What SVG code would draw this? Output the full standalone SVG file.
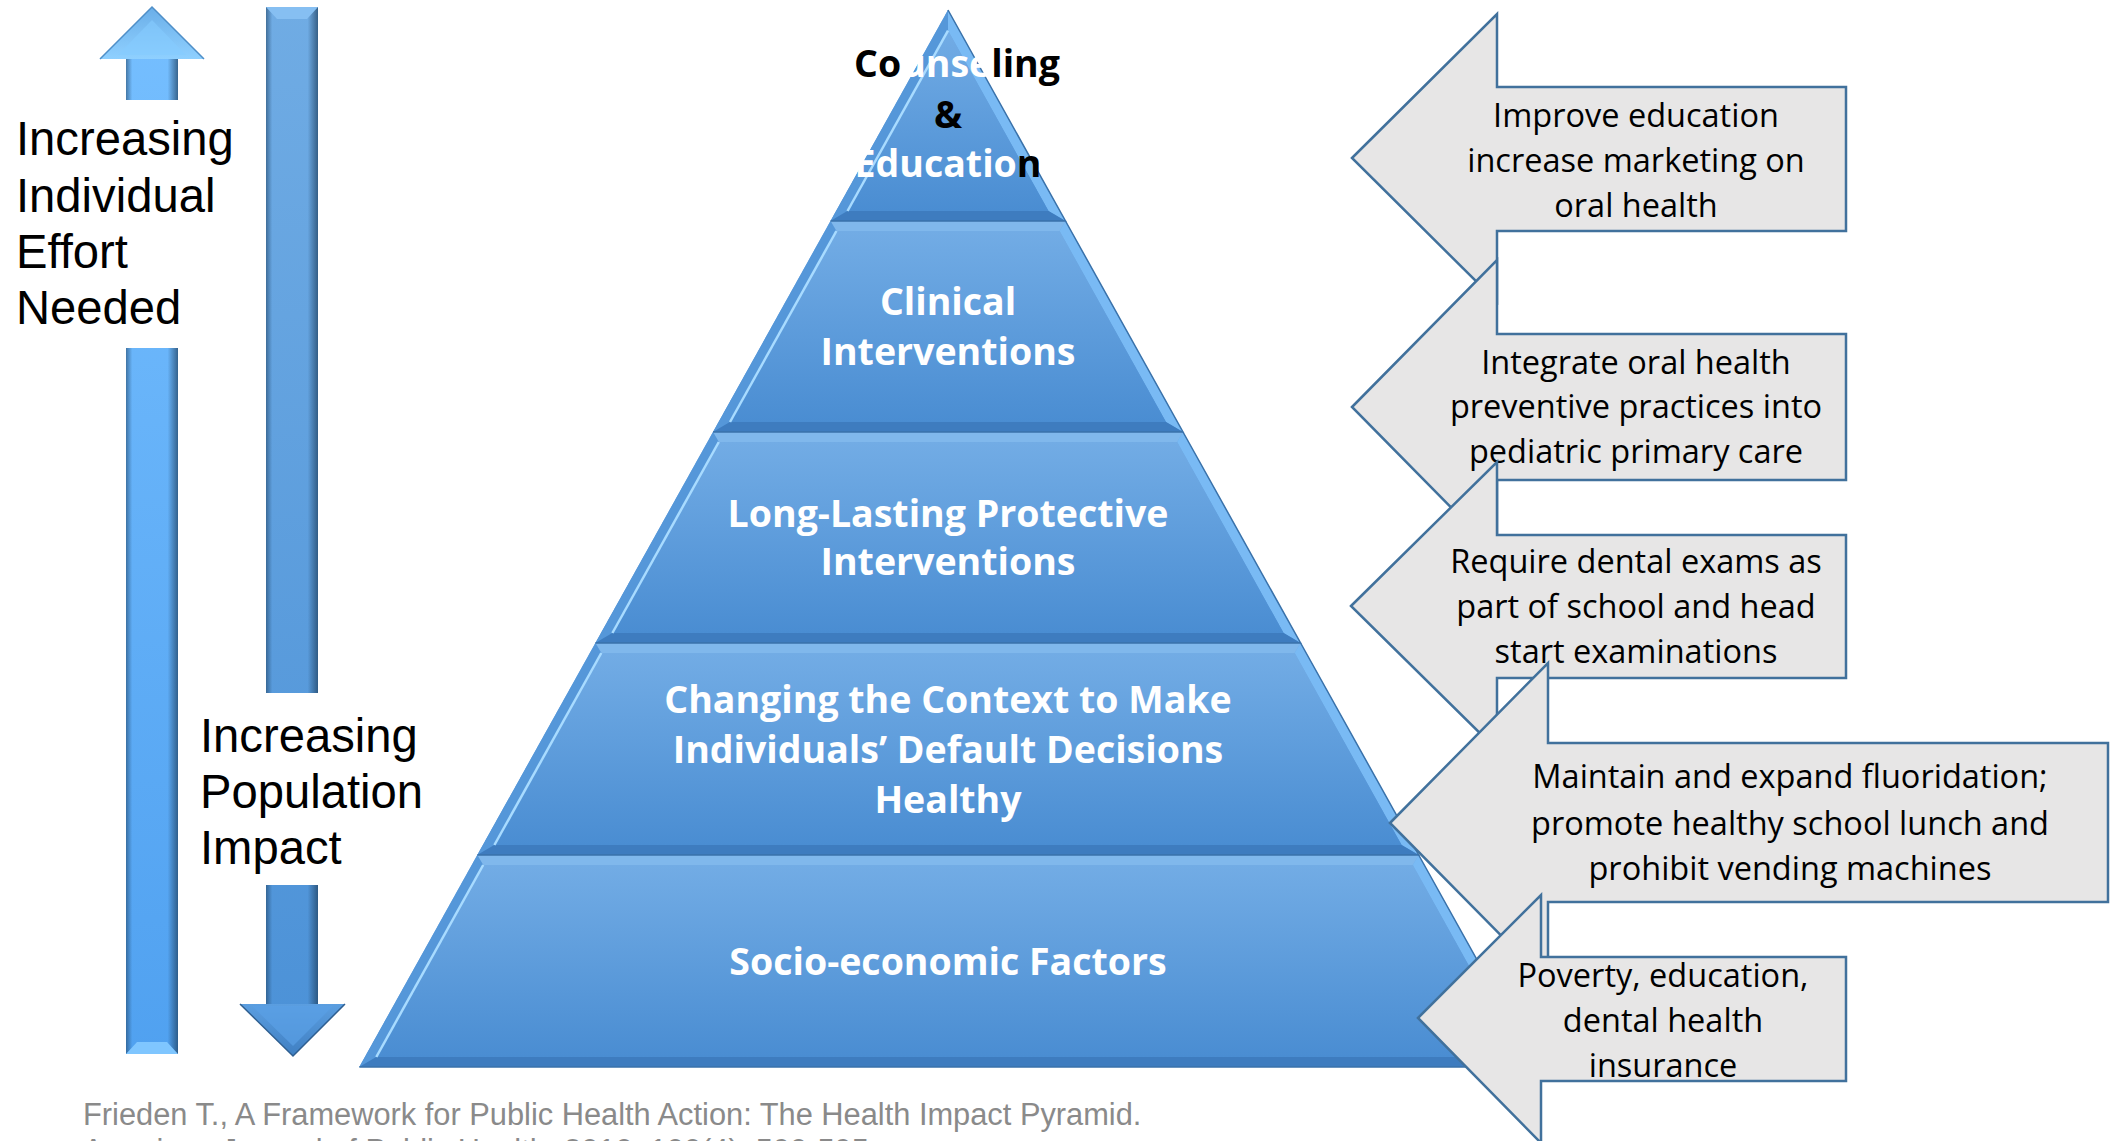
<svg xmlns="http://www.w3.org/2000/svg" width="2123" height="1141" viewBox="0 0 2123 1141">
<defs>
<linearGradient id="tierGrad" x1="0" y1="0" x2="0" y2="1">
<stop offset="0" stop-color="#72ace5"/><stop offset="1" stop-color="#4a8dd2"/>
</linearGradient>
<linearGradient id="upShaftU" x1="0" y1="0" x2="0" y2="1060" gradientUnits="userSpaceOnUse">
<stop offset="0" stop-color="#76bfff"/><stop offset="1" stop-color="#50a1f0"/>
</linearGradient>
<linearGradient id="downShaftU" x1="0" y1="0" x2="0" y2="1060" gradientUnits="userSpaceOnUse">
<stop offset="0" stop-color="#70ace4"/><stop offset="1" stop-color="#4b91d7"/>
</linearGradient>
<linearGradient id="edgeShade" x1="0" y1="0" x2="1" y2="0">
<stop offset="0" stop-color="#1e3f5e" stop-opacity="0.55"/>
<stop offset="0.12" stop-color="#1e3f5e" stop-opacity="0"/>
<stop offset="0.8" stop-color="#1e3f5e" stop-opacity="0"/>
<stop offset="1" stop-color="#1e3f5e" stop-opacity="0.7"/>
</linearGradient>
<linearGradient id="upHead" x1="0" y1="0" x2="0" y2="1">
<stop offset="0" stop-color="#6aaee8"/><stop offset="1" stop-color="#8fd0ff"/>
</linearGradient>
<linearGradient id="downHead" x1="0" y1="0" x2="0" y2="1">
<stop offset="0" stop-color="#5b9ee0"/><stop offset="1" stop-color="#3f7fc2"/>
</linearGradient>
<style>
.tier-main{fill:url(#tierGrad)}
.band-top{fill:#80b8ec}
.band-left{fill:#5597d9}
.band-right{fill:#79baf4}
.band-bottom{fill:#3e7cbf}
.hl{fill:none;stroke:#a8dbff;stroke-width:2.5}
.edge{fill:none;stroke:#3a72aa;stroke-width:1.5}
.ptext{font-family:"Open Sans","Noto Sans",sans-serif;font-weight:700;font-size:37.5px;fill:#ffffff;text-anchor:middle}
.ctext{font-family:"Open Sans","Noto Sans",sans-serif;font-size:32.5px;fill:#000000;text-anchor:middle}
.callout{fill:#e7e6e6;stroke:#41719c;stroke-width:2.5;stroke-linejoin:miter}
.ltext{font-family:"Liberation Sans",Arial,sans-serif;font-size:47.2px;fill:#000000}
.cite{font-family:"Liberation Sans",Arial,sans-serif;font-size:30.8px;fill:#8a8a8a}
.shade{fill:url(#edgeShade)}
</style>
</defs>
<rect width="2123" height="1141" fill="#ffffff"/>

<!-- Left arrows -->
<g id="arrow-effort">
<polygon points="152,7 204,59 100,59" fill="url(#upHead)"/>
<polygon points="152,20 186,55 118,55" fill="#86cbff" opacity="0.6"/>
<polyline points="100,59 152,7 204,59" fill="none" stroke="#4f8fc8" stroke-width="1.5"/>
<rect x="126" y="59" width="52" height="41" fill="url(#upShaftU)"/>
<rect x="126" y="59" width="52" height="41" class="shade"/>
<rect x="126" y="348" width="52" height="706" fill="url(#upShaftU)"/>
<rect x="126" y="348" width="52" height="706" class="shade"/>
<polygon points="126,1054 178,1054 167,1042 137,1042" fill="#7fc6ff"/>
</g>
<g id="arrow-impact">
<rect x="266" y="7" width="52" height="686" fill="url(#downShaftU)"/>
<rect x="266" y="7" width="52" height="686" class="shade"/>
<polygon points="266,7 318,7 307,19 277,19" fill="#86bff2"/>
<rect x="266" y="885" width="52" height="119" fill="url(#downShaftU)"/>
<rect x="266" y="885" width="52" height="119" class="shade"/>
<polygon points="240,1004 345,1004 293,1056" fill="url(#downHead)"/>
<polygon points="252,1006 333,1006 293,1046" fill="#5aa0e6" opacity="0.7"/>
<polyline points="240,1004 293,1056 345,1004" fill="none" stroke="#2f5f90" stroke-width="1.5"/>
</g>
<g id="label-effort">
<text class="ltext" x="16" y="155">Increasing</text>
<text class="ltext" x="16" y="212">Individual</text>
<text class="ltext" x="16" y="268">Effort</text>
<text class="ltext" x="16" y="324">Needed</text>
</g>
<g id="label-impact">
<text class="ltext" x="200" y="752">Increasing</text>
<text class="ltext" x="200" y="808">Population</text>
<text class="ltext" x="200" y="864">Impact</text>
</g>

<!-- Pyramid -->
<g id="tier-5">
<polygon class="tier-main" points="477.3,855 1418.7,855 1536.7,1067 359.3,1067"/>
<polygon class="band-top" points="477.3,855 1418.7,855 1412.8,865 483.2,865"/>
<polygon class="band-left" points="477.3,855 483.2,865 376.3,1057 359.3,1067"/>
<polygon class="band-right" points="1418.7,855 1536.7,1067 1519.7,1057 1412.8,865"/>
<polygon class="band-bottom" points="376.3,1057 1519.7,1057 1536.7,1067 359.3,1067"/>
<polygon class="tier-main" points="483.2,865 1412.8,865 1519.7,1057 376.3,1057"/>
<line class="hl" x1="483.2" y1="865" x2="376.3" y2="1057"/>
<polyline class="edge" points="1418.7,855 1536.7,1067 359.3,1067"/>
<text class="ptext" x="948" y="975">Socio-economic Factors</text>
</g>
<g id="tier-4">
<polygon class="tier-main" points="595.4,643 1300.6,643 1418.7,855 477.3,855"/>
<polygon class="band-top" points="595.4,643 1300.6,643 1294.7,653 601.3,653"/>
<polygon class="band-left" points="595.4,643 601.3,653 494.4,845 477.3,855"/>
<polygon class="band-right" points="1300.6,643 1418.7,855 1401.6,845 1294.7,653"/>
<polygon class="band-bottom" points="494.4,845 1401.6,845 1418.7,855 477.3,855"/>
<polygon class="tier-main" points="601.3,653 1294.7,653 1401.6,845 494.4,845"/>
<line class="hl" x1="601.3" y1="653" x2="494.4" y2="845"/>
<polyline class="edge" points="1300.6,643 1418.7,855 477.3,855"/>
<text class="ptext" x="948" y="713">Changing the Context to Make</text>
<text class="ptext" x="948" y="763">Individuals’ Default Decisions</text>
<text class="ptext" x="948" y="813">Healthy</text>
</g>
<g id="tier-3">
<polygon class="tier-main" points="713,432 1183,432 1300.6,643 595.4,643"/>
<polygon class="band-top" points="713,432 1183,432 1177.2,442 718.8,442"/>
<polygon class="band-left" points="713,432 718.8,442 612.4,633 595.4,643"/>
<polygon class="band-right" points="1183,432 1300.6,643 1283.6,633 1177.2,442"/>
<polygon class="band-bottom" points="612.4,633 1283.6,633 1300.6,643 595.4,643"/>
<polygon class="tier-main" points="718.8,442 1177.2,442 1283.6,633 612.4,633"/>
<line class="hl" x1="718.8" y1="442" x2="612.4" y2="633"/>
<polyline class="edge" points="1183,432 1300.6,643 595.4,643"/>
<text class="ptext" x="948" y="527">Long-Lasting Protective</text>
<text class="ptext" x="948" y="575">Interventions</text>
</g>
<g id="tier-2">
<polygon class="tier-main" points="830.5,221 1065.5,221 1183,432 713,432"/>
<polygon class="band-top" points="830.5,221 1065.5,221 1059.6,231 836.4,231"/>
<polygon class="band-left" points="830.5,221 836.4,231 730,422 713,432"/>
<polygon class="band-right" points="1065.5,221 1183,432 1166,422 1059.6,231"/>
<polygon class="band-bottom" points="730,422 1166,422 1183,432 713,432"/>
<polygon class="tier-main" points="836.4,231 1059.6,231 1166,422 730,422"/>
<line class="hl" x1="836.4" y1="231" x2="730" y2="422"/>
<polyline class="edge" points="1065.5,221 1183,432 713,432"/>
<text class="ptext" x="948" y="315">Clinical</text>
<text class="ptext" x="948" y="365">Interventions</text>
</g>
<g id="tier-1">
<polygon class="tier-main" points="948,10 1065.5,221 830.5,221"/>
<polygon class="band-left" points="948,10 948,30.6 847.5,211 830.5,221"/>
<polygon class="band-right" points="948,10 1065.5,221 1048.5,211 948,30.6"/>
<polygon class="band-bottom" points="847.5,211 1048.5,211 1065.5,221 830.5,221"/>
<polygon class="tier-main" points="948,30.6 1048.5,211 847.5,211"/>
<line class="hl" x1="948" y1="30.6" x2="847.5" y2="211"/>
<polyline class="edge" points="948,10 1065.5,221 830.5,221"/>
<text class="ptext" x="957" y="77"><tspan fill="#000000">Co</tspan><tspan fill="#ffffff">unse</tspan><tspan fill="#000000">ling</tspan></text>
<text class="ptext" x="948" y="128" style="fill:#000000">&amp;</text>
<text class="ptext" x="948" y="177"><tspan fill="#ffffff">Educatio</tspan><tspan fill="#000000">n</tspan></text>
</g>

<!-- Callouts -->
<g id="callout-1">
<polygon class="callout" points="1352,158 1497,14 1497,87 1846,87 1846,231 1497,231 1497,302"/>
<text class="ctext" x="1636" y="127">Improve education</text>
<text class="ctext" x="1636" y="172">increase marketing on</text>
<text class="ctext" x="1636" y="217">oral health</text>
</g>
<g id="callout-2">
<polygon class="callout" points="1352,407 1497,260 1497,334 1846,334 1846,480 1497,480 1497,554"/>
<text class="ctext" x="1636" y="374">Integrate oral health</text>
<text class="ctext" x="1636" y="418">preventive practices into</text>
<text class="ctext" x="1636" y="463">pediatric primary care</text>
</g>
<g id="callout-3">
<polygon class="callout" points="1351,606 1497,462 1497,535 1846,535 1846,678 1497,678 1497,750"/>
<text class="ctext" x="1636" y="573">Require dental exams as</text>
<text class="ctext" x="1636" y="618">part of school and head</text>
<text class="ctext" x="1636" y="663">start examinations</text>
</g>
<g id="callout-4">
<polygon class="callout" points="1390,823 1548,663 1548,743 2108,743 2108,902 1548,902 1548,983"/>
<text class="ctext" x="1790" y="788">Maintain and expand fluoridation;</text>
<text class="ctext" x="1790" y="835">promote healthy school lunch and</text>
<text class="ctext" x="1790" y="880">prohibit vending machines</text>
</g>
<g id="callout-5">
<polygon class="callout" points="1418,1018 1541,895 1541,957 1846,957 1846,1081 1541,1081 1541,1143"/>
<text class="ctext" x="1663" y="987">Poverty, education,</text>
<text class="ctext" x="1663" y="1032">dental health</text>
<text class="ctext" x="1663" y="1077">insurance</text>
</g>

<g id="connectors"/>

<g id="citation">
<text class="cite" x="83" y="1125">Frieden T., A Framework for Public Health Action: The Health Impact Pyramid.</text>
<text class="cite" x="83" y="1161">American Journal of Public Health. 2010; 100(4): 590-595.</text>
</g>
</svg>
